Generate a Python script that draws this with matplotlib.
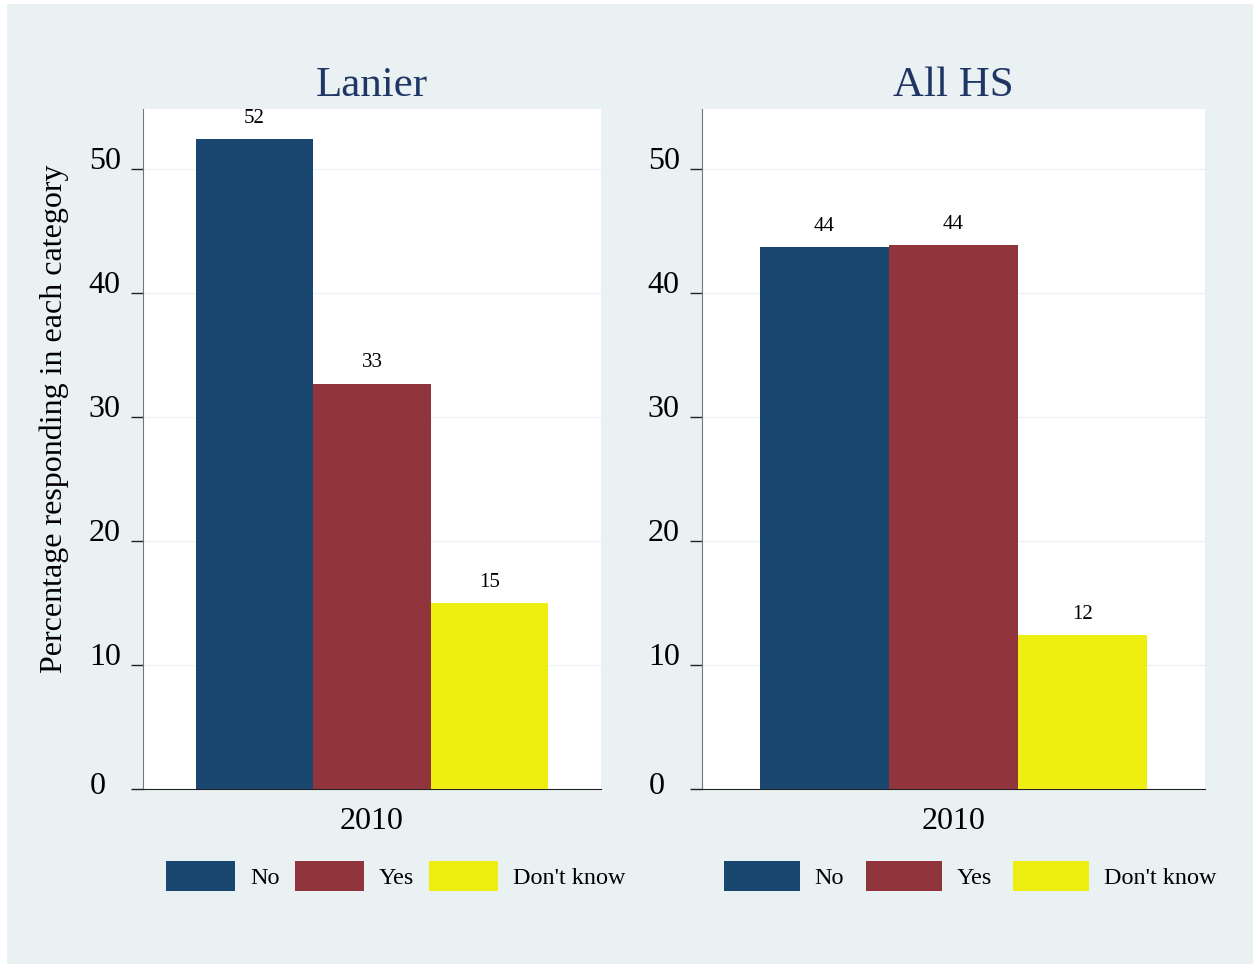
import matplotlib
matplotlib.use("Agg")
import matplotlib.pyplot as plt
from matplotlib.patches import Rectangle
from matplotlib.transforms import ScaledTranslation

plt.rcParams['font.family'] = ['Liberation Serif', 'DejaVu Serif']

# data
panels = ['Lanier', 'All HS']
categories = ['No', 'Yes', "Don't know"]
lanier_vals = [52.4, 32.7, 15.0]
allhs_vals = [43.7, 43.9, 12.4]
year_label = '2010'
yticks = [0, 10, 20, 30, 40, 50]
colors = ['#1A476F', '#90353B', '#EEEE11']
bg = '#EAF1F3'
title_color = '#1F3564'

fig = plt.figure(figsize=(12.53, 9.64), dpi=100, facecolor='white')
fig.patches.append(Rectangle((7 / 1253, 0), 1 - 7 / 1253, 1 - 4 / 964,
                             transform=fig.transFigure, facecolor=bg,
                             edgecolor='none', zorder=-10))

ax_specs = [(143, 458, lanier_vals), (702, 503, allhs_vals)]
for i, (left, width, vals) in enumerate(ax_specs):
    ax = fig.add_axes([left / 1253, 175 / 964, width / 1253, 680 / 964])
    ax.set_facecolor('white')
    xs = [-1, 0, 1]
    bars = ax.bar(xs, vals, width=1.0, color=colors, edgecolor='none', zorder=3)
    for b, v in zip(bars, vals):
        ax.annotate(f'{round(v):d}', (b.get_x() + b.get_width() / 2, v),
                    xytext=(0, 8), textcoords='offset points',
                    ha='center', va='bottom', fontsize=15)
    ax.set_xlim(-1.95, 1.95)
    ax.set_ylim(0, 54.84)
    ax.set_yticks(yticks)
    ax.yaxis.grid(True, color='#EEF1F3', linewidth=1, zorder=0)
    ax.set_xticks([])
    ax.tick_params(axis='y', length=9, width=1, labelsize=23, pad=7,
                   color='#222222')
    # Stata-like tick labels: sitting on the tick, zero centred
    for lab, tv in zip(ax.get_yticklabels(), yticks):
        if tv == 0:
            lab.set_va('center')
            lab.set_transform(lab.get_transform() +
                              ScaledTranslation(-0.15, 0.02, fig.dpi_scale_trans))
        else:
            lab.set_va('baseline')
    for s in ['top', 'right']:
        ax.spines[s].set_visible(False)
    ax.spines['left'].set_color('#777777')
    ax.spines['bottom'].set_color('#222222')
    ax.set_title(panels[i], fontsize=31, color=title_color, pad=9)
    ax.set_xlabel(year_label, fontsize=23, labelpad=13)
    if i == 0:
        ax.set_ylabel('Percentage responding in each category', fontsize=23)
        ax.yaxis.set_label_coords(-0.162, 0.545)
    handles = [Rectangle((0, 0), 1, 1, facecolor=c, edgecolor='none')
               for c in colors]
    ax.legend(handles, categories, ncol=3, loc='center',
              bbox_to_anchor=(0.552 if i == 0 else 0.533, -0.128),
              frameon=False, fontsize=17.4,
              handlelength=2.85 if i == 0 else 3.15, handleheight=1.5,
              handletextpad=0.6, columnspacing=0.65 if i == 0 else 0.9)

fig.savefig('out.png', dpi=100, facecolor=fig.get_facecolor())
